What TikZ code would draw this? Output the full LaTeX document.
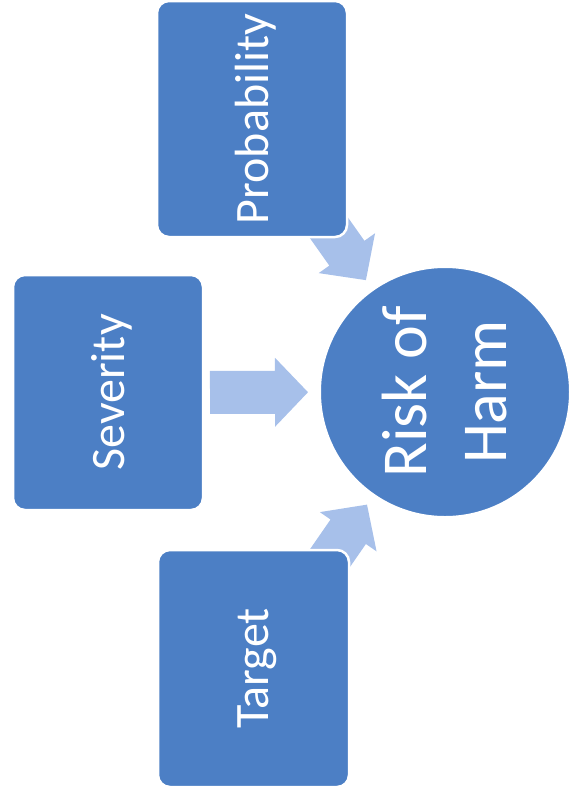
\documentclass[tikz,border=0pt]{standalone}
\usepackage{fontspec}
\setmainfont{Carlito}
\usetikzlibrary{calc}
\definecolor{boxblue}{HTML}{4C7FC5}
\definecolor{arrowblue}{HTML}{A7C0EA}
\pgfdeclarelayer{background}
\pgfsetlayers{background,main}
\newcommand{\harmarrow}[2]{%
  \coordinate (hb) at ($(#2)!33pt!(#1)$);
  \fill[arrowfill] ($(#1)!21.5pt!90:(#2)$) -- ($(hb)!21.5pt!90:(#2)$) -- ($(hb)!34.5pt!90:(#2)$) -- (#2)
    -- ($(hb)!34.5pt!-90:(#2)$) -- ($(hb)!21.5pt!-90:(#2)$) -- ($(#1)!21.5pt!-90:(#2)$) -- cycle;}
\begin{document}
\begin{tikzpicture}[x=1pt,y=-1pt,
  box/.style={rectangle, rounded corners=12pt, fill=boxblue, draw=white, line width=2.5pt,
    rotate=90, text=white, font=\fontsize{48}{58}\selectfont, inner sep=0pt, text depth=0pt},
  hub/.style={circle, fill=boxblue, draw=white, line width=2pt, minimum size=250pt,
    text=white, font=\fontsize{64}{80}\selectfont, align=center, rotate=90, inner sep=0pt},
  arrowfill/.style={fill=arrowblue, draw=none}]
\useasboundingbox (0,0) rectangle (571,801);
\node[hub] (risk) at (445,392) {Risk of\\Harm};
\node[box, minimum width=236pt, minimum height=190pt] (prob) at (252,119) {Probability};
\node[box, minimum width=235pt, minimum height=190pt] (sev) at (108,392.5) {Severity};
\node[box, minimum width=237pt, minimum height=191pt] (targ) at (253.5,668.5) {Target};
\begin{pgfonlayer}{background}
  \coordinate (a1s) at ($(risk.center)!232pt!(prob.center)$);
  \coordinate (a1t) at ($(risk.center)!137pt!(prob.center)$);
  \harmarrow{a1s}{a1t}
  \coordinate (a2s) at ($(risk.center)!235pt!(sev.center)$);
  \coordinate (a2t) at ($(risk.center)!137pt!(sev.center)$);
  \harmarrow{a2s}{a2t}
  \coordinate (a3s) at ($(risk.center)!232pt!(targ.center)$);
  \coordinate (a3t) at ($(risk.center)!137pt!(targ.center)$);
  \harmarrow{a3s}{a3t}
\end{pgfonlayer}
\end{tikzpicture}
\end{document}
